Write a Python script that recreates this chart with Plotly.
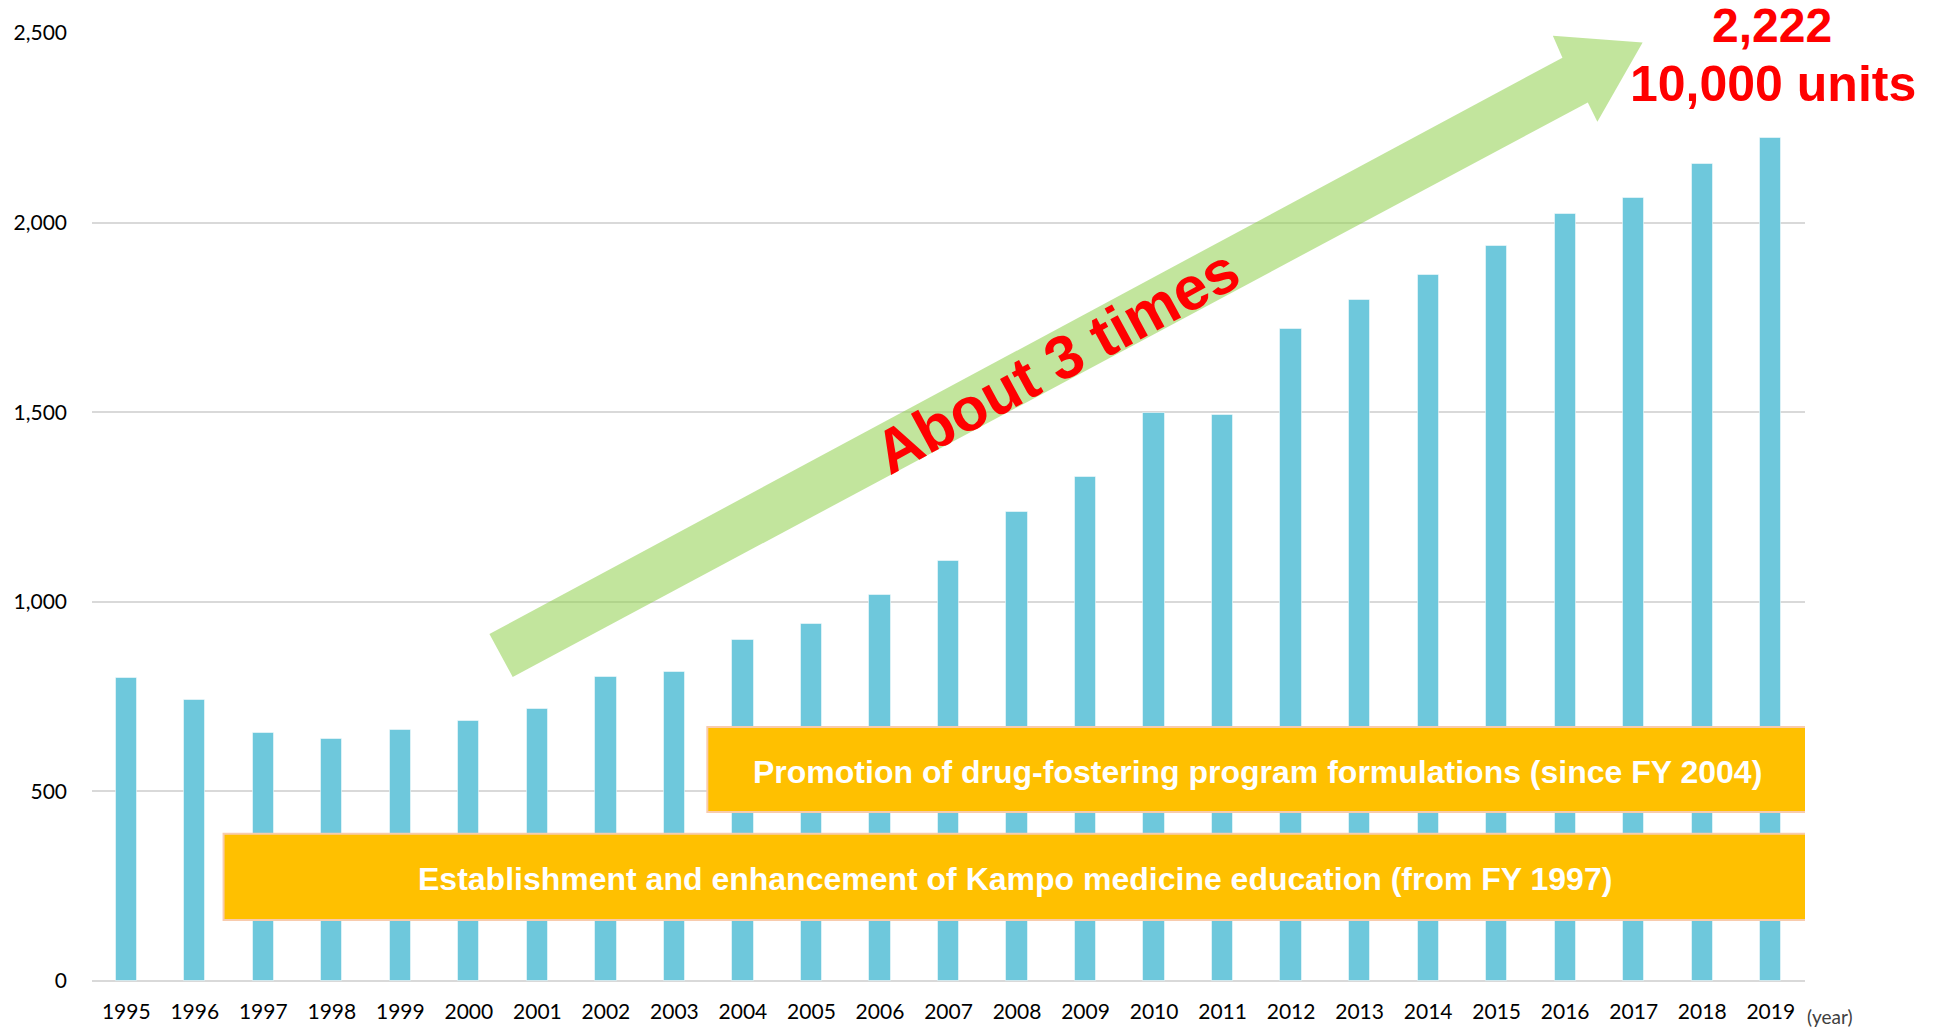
import plotly.graph_objects as go

# ---- data ----
years = list(range(1995, 2020))
values = [800, 740, 655, 638, 662, 686, 717, 802, 815, 900, 942, 1018, 1108,
          1238, 1330, 1497, 1492, 1719, 1795, 1861, 1938, 2023, 2065, 2155, 2222]
year_labels = [str(y) for y in years]
y_ticks = [0, 500, 1000, 1500, 2000, 2500]
box_texts = ["Promotion of drug-fostering program formulations (since FY 2004)",
             "Establishment and enhancement of Kampo medicine education (from FY 1997)"]
growth_text = "About 3 times"
unit_text = "10,000 units"

BAR = "#6EC8DC"
ORANGE = "#FFC000"
RED = "#FF0000"
TICKFONT = dict(family="Lato, Open Sans, sans-serif", size=21, color="#000000")
BOLD = "Liberation Sans, Arial, sans-serif"

fig = go.Figure()
fig.add_trace(go.Bar(
    x=years, y=values, width=0.31,
    marker=dict(color=BAR, line=dict(color="rgba(255,255,255,0.5)", width=1)),
    hoverinfo="x+y",
))

shapes = []
# green arrow (data coordinates)
arrow = ("M 2000.30,915 L 2015.96,2435 L 2015.82,2493 L 2017.13,2475 "
         "L 2016.47,2266 L 2016.33,2317 L 2000.64,802 Z")
shapes.append(dict(type="path", path=arrow, xref="x", yref="y",
                   fillcolor="rgba(146,208,80,0.56)", line=dict(width=0),
                   layer="above"))
# orange boxes
boxes = [(2003.48, 2019.53, 446, 670), (1996.42, 2019.53, 161, 388)]
for (x0, x1, y0, y1) in boxes:
    shapes.append(dict(type="rect", xref="x", yref="y", x0=x0, x1=x1, y0=y0, y1=y1,
                       fillcolor=ORANGE, line=dict(color="#F8CBAD", width=2),
                       layer="above"))

annotations = []
for (x0, x1, y0, y1), t in zip(boxes, box_texts):
    annotations.append(dict(x=(x0 + x1) / 2, y=(y0 + y1) / 2 - 6, xref="x", yref="y",
                            text=f"<b>{t}</b>", showarrow=False,
                            font=dict(family=BOLD, size=32, color="white"),
                            xanchor="center", yanchor="middle"))
annotations.append(dict(x=2008.58, y=1636, xref="x", yref="y",
                        text=f"<b>{growth_text}</b>", showarrow=False, textangle=-28.5,
                        font=dict(family=BOLD, size=61, color=RED),
                        xanchor="center", yanchor="middle"))
annotations.append(dict(x=0.9807, y=1.008, xref="paper", yref="paper",
                        text=f"<b>{values[-1]:,}</b>", showarrow=False,
                        font=dict(family=BOLD, size=48, color=RED),
                        xanchor="center", yanchor="middle"))
annotations.append(dict(x=0.9815, y=0.9462, xref="paper", yref="paper",
                        text=f"<b>{unit_text}</b>", showarrow=False,
                        font=dict(family=BOLD, size=50, color=RED),
                        xanchor="center", yanchor="middle"))
annotations.append(dict(x=1.0146, y=-0.037, xref="paper", yref="paper",
                        text="(year)", showarrow=False,
                        font=dict(family="Lato, Open Sans, sans-serif", size=19, color="#404040"),
                        xanchor="center", yanchor="middle"))

fig.update_layout(
    width=1943, height=1028,
    margin=dict(l=92, r=138, t=33, b=47, pad=0, autoexpand=False),
    paper_bgcolor="white", plot_bgcolor="white",
    showlegend=False,
    shapes=shapes, annotations=annotations,
    bargap=0,
    xaxis=dict(range=[1994.5, 2019.5], tickvals=years, ticktext=year_labels,
               showgrid=False, zeroline=False, showline=False, ticks="",
               tickfont=TICKFONT, ticklabelstandoff=16, fixedrange=True,
               automargin=False),
    yaxis=dict(range=[0, 2500], tickvals=y_ticks, tickformat=",",
               showgrid=True, gridcolor="#D9D9D9", gridwidth=1.5,
               zeroline=True, zerolinecolor="#D9D9D9", zerolinewidth=2,
               showline=False, ticks="", tickfont=TICKFONT,
               ticklabelstandoff=24, fixedrange=True, automargin=False),
)

fig.write_html("out.html")
